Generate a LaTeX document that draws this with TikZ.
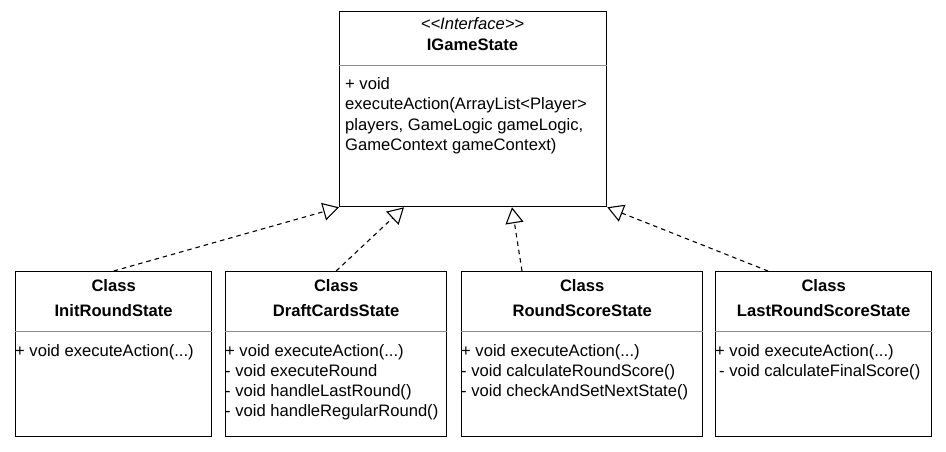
\documentclass[tikz,border=0pt]{standalone}
\usepackage{fontspec}
\setmainfont{Liberation Sans}
\usetikzlibrary{arrows.meta,calc}
\begin{document}
\begin{tikzpicture}[x=1pt,y=-1pt,
 box/.style={draw, line width=1.3pt, anchor=north west, inner sep=0pt, minimum height=165pt},
 sepline/.style={draw=black!45, line width=0.9pt},
 txt/.style={font=\fontsize{16.6}{19}\selectfont, inner sep=0pt},
 mem/.style={txt, anchor=base west},
 hdr/.style={txt, anchor=base, font=\fontsize{16.6}{19}\selectfont\bfseries},
 real/.style={dash pattern=on 4.5pt off 4pt, line width=1.1pt, -{Triangle[open,length=16pt,width=18pt,fill=white]}}
]
\useasboundingbox (0,0) rectangle (946,452);
% interface
\node[box, minimum width=267pt, minimum height=195pt] (ig) at (339,11) {};
\draw[sepline] ($(ig.north west)+(0,54)$) -- ($(ig.north east)+(0,54)$);
\node[txt, anchor=base, font=\fontsize{16.6}{19}\selectfont\itshape] (igst) at (472.5,30) {<\kern0pt<Interface>\kern0pt>};
\node[hdr] (ign) at (472.5,51) {IGameState};
\node[mem] (igm1) at (345,90) {+ void};
\node[mem] (igm2) at (345,110) {executeAction(ArrayList<Player>};
\node[mem] (igm3) at (345,130) {players, GameLogic gameLogic,};
\node[mem] (igm4) at (345,150) {GameContext gameContext)};
% classes
\node[box, minimum width=196pt] (b1) at (15,271) {};
\node[box, minimum width=221pt] (b2) at (225,271) {};
\node[box, minimum width=241pt] (b3) at (461,271) {};
\node[box, minimum width=216pt] (b4) at (715,271) {};
\foreach \b in {b1,b2,b3,b4}{
  \draw[sepline] ($(\b.north west)+(0,60)$) -- ($(\b.north east)+(0,60)$);
}
\node[hdr] (b1c) at ($(b1.north)+(0,20)$) {Class};
\node[hdr] (b1n) at ($(b1.north)+(0,45.5)$) {InitRoundState};
\node[hdr] (b2c) at ($(b2.north)+(0,20)$) {Class};
\node[hdr] (b2n) at ($(b2.north)+(0,45.5)$) {DraftCardsState};
\node[hdr] (b3c) at ($(b3.north)+(0,20)$) {Class};
\node[hdr] (b3n) at ($(b3.north)+(0,45.5)$) {RoundScoreState};
\node[hdr] (b4c) at ($(b4.north)+(0,20)$) {Class};
\node[hdr] (b4n) at ($(b4.north)+(0,45.5)$) {LastRoundScoreState};

\node[mem] (b1m1) at (15,356) {+ void executeAction(...)};

\node[mem] (b2m1) at (225,356) {+ void executeAction(...)};
\node[mem] (b2m2) at (225,376) {- void executeRound};
\node[mem] (b2m3) at (225,396) {- void handleLastRound()};
\node[mem] (b2m4) at (225,416) {- void handleRegularRound()};

\node[mem] (b3m1) at (461,356) {+ void executeAction(...)};
\node[mem] (b3m2) at (461,376) {- void calculateRoundScore()};
\node[mem] (b3m3) at (461,396) {- void checkAndSetNextState()};

\node[mem] (b4m1) at (715,356) {+ void executeAction(...)};
\node[mem] (b4m2) at (719,376) {- void calculateFinalScore()};

% realizations
\draw[real] (b1.north) -- (ig.south west);
\draw[real] (b2.north) -- ($(ig.south west)+(65,0)$);
\draw[real] ($(b3.north west)+(61,0)$) -- ($(ig.south west)+(173,0)$);
\draw[real] ($(b4.north west)+(53,0)$) -- (ig.south east);
\end{tikzpicture}
\end{document}
